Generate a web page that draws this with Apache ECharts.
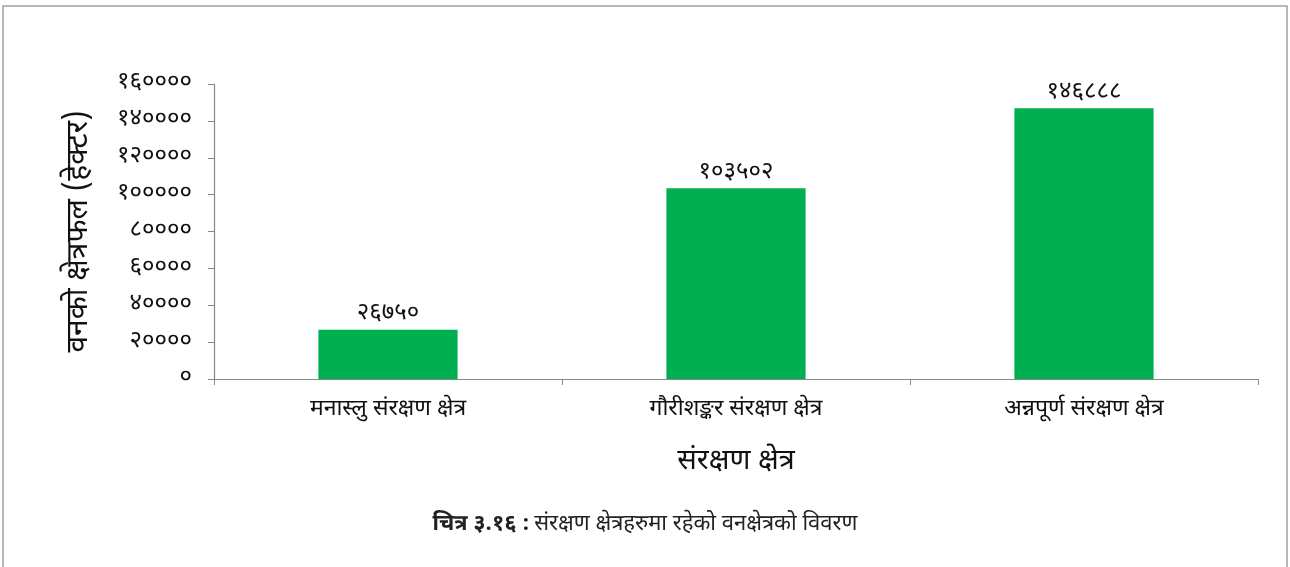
<!DOCTYPE html>
<html>
<head>
<meta charset="utf-8">
<script src="https://cdn.jsdelivr.net/npm/echarts@6/dist/echarts.min.js"></script>
<style>html,body{margin:0;padding:0;background:#fff}#c{width:1290px;height:567px}</style>
</head>
<body>
<div id="c"></div>
<script>
const categories = ['मनास्लु संरक्षण क्षेत्र', 'गौरीशङ्कर संरक्षण क्षेत्र', 'अन्नपूर्ण संरक्षण क्षेत्र'];
const values = [26750, 103502, 146888];
const devDigits = ['०','१','२','३','४','५','६','७','८','९'];
const yAxisName = 'वनको क्षेत्रफल (हेक्टर)';
const xAxisName = 'संरक्षण क्षेत्र';
const captionBold = 'चित्र ३.१६ :';
const captionText = 'संरक्षण क्षेत्रहरुमा रहेको वनक्षेत्रको विवरण';

const toDev = n => String(n).replace(/[0-9]/g, d => devDigits[+d]);
const FONT = "'Noto Sans Devanagari','Lohit Devanagari','Noto Serif Devanagari','Noto Sans','DejaVu Sans',sans-serif";

const chart = echarts.init(document.getElementById('c'), null, {renderer: 'canvas'});
chart.setOption({
  backgroundColor: '#fff',
  textStyle: {fontFamily: FONT},
  animation: false,
  title: {
    text: '{b|' + captionBold + '} {n|' + captionText + '}',
    left: 'center', top: 510,
    textStyle: {
      fontWeight: 'normal',
      rich: {
        b: {fontFamily: FONT, fontSize: 22, fontWeight: 'bold', color: '#222'},
        n: {fontFamily: FONT, fontSize: 22, fontWeight: 'normal', color: '#222'}
      }
    }
  },
  graphic: [{
    type: 'rect', shape: {x: 3, y: 6, width: 1284, height: 580},
    style: {fill: 'none', stroke: '#a0a0a0', lineWidth: 1.5}, silent: true
  }],
  grid: {left: 214, right: 32, top: 84, bottom: 188},
  xAxis: {
    type: 'category', data: categories,
    name: xAxisName, nameLocation: 'middle', nameGap: 70,
    nameTextStyle: {fontFamily: FONT, fontSize: 29, color: '#111'},
    axisLine: {lineStyle: {color: '#888', width: 1.2}},
    axisTick: {show: true, length: 6, lineStyle: {color: '#888'}},
    axisLabel: {fontFamily: FONT, fontSize: 23, color: '#111', margin: 20}
  },
  yAxis: {
    type: 'value', min: 0, max: 160000, interval: 20000,
    name: yAxisName, nameLocation: 'middle', nameRotate: 90, nameGap: 118,
    nameTextStyle: {fontFamily: FONT, fontSize: 30, color: '#111'},
    axisLine: {show: true, lineStyle: {color: '#888', width: 1.2}},
    axisTick: {show: true, length: 6, lineStyle: {color: '#888'}},
    splitLine: {show: false},
    axisLabel: {fontFamily: FONT, fontSize: 24, color: '#111', margin: 22, formatter: v => toDev(v)}
  },
  series: [{
    type: 'bar', data: values, barWidth: '40%',
    itemStyle: {color: '#00B050'},
    label: {show: true, position: 'top', distance: 3, fontFamily: FONT, fontSize: 24, color: '#111',
      formatter: p => toDev(p.value)}
  }]
});
</script>
</body>
</html>
